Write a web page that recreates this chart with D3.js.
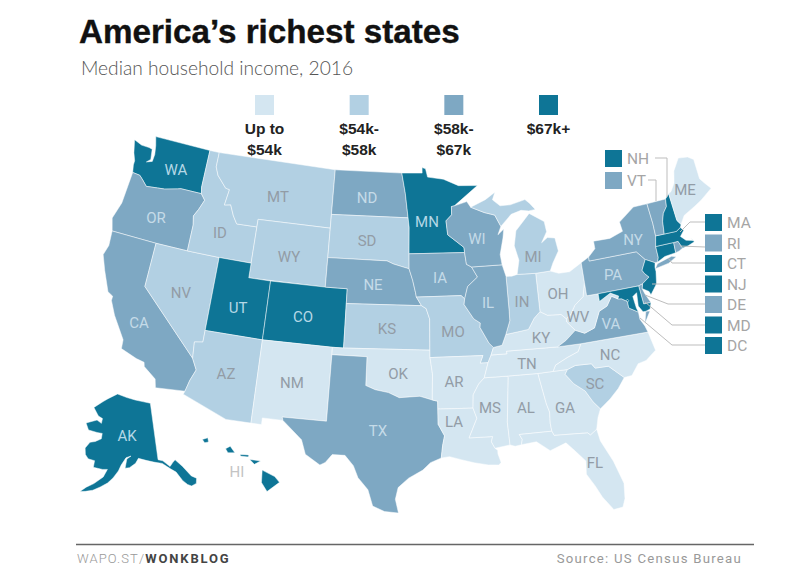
<!DOCTYPE html>
<html><head><meta charset="utf-8">
<script src="https://cdn.jsdelivr.net/npm/d3@7"></script>
<style>html,body{margin:0;padding:0;background:#fff}svg{display:block}</style>
</head><body><svg id="c" width="800" height="570"></svg>
<script>
const titleText = "America’s richest states";
const subtitleText = "Median household income, 2016";
const binLabels = [["Up to","$54k"],["$54k-","$58k"],["$58k-","$67k"],["$67k+"]];
const binColors = ["#d4e6f1","#b2d0e3","#7ea8c3","#0e7596"];
const tier0 = ["NM","OK","AR","LA","MS","AL","GA","FL","TN","KY","WV","OH","NC","ME"];
const tier1 = ["MT","ID","WY","SD","NV","AZ","KS","MO","IN","MI","SC"];
const tier2 = ["OR","CA","ND","NE","IA","WI","IL","TX","NY","VT","PA","RI","DE","VA"];
const tier3 = ["WA","MN","UT","CO","AK","HI","NH","MA","CT","NJ","MD","DC"];
const calloutsLeft = ["NH","VT"];
const calloutsRight = ["MA","RI","CT","NJ","DE","MD","DC"];

const shapes = {
WA:["-124.73,48.38 -123.9,48.16 -123.1,48.15 -122.75,48.1 -122.6,47.4 -122.95,47.15 -122.4,47.3 -122.35,47.8 -122.5,48.4 -122.75,49 -117.03,49 -117.04,46.42 -116.92,45.99 -118.98,46 -119.3,45.93 -120.5,45.7 -121.2,45.65 -122.3,45.55 -122.8,45.9 -123.2,46.15 -123.95,46.2 -124.1,46.7 -124.1,47 -124.4,47.5"],
OR:["-123.95,46.2 -123.2,46.15 -122.8,45.9 -122.3,45.55 -121.2,45.65 -120.5,45.7 -119.3,45.93 -118.98,46 -116.92,45.99 -116.47,45.6 -116.85,44.9 -117.2,44.4 -117.03,43.8 -117.03,42 -120,42 -124.2,42 -124.55,42.84 -124.1,44"],
CA:["-124.2,42 -120,42 -120,39 -114.63,35 -114.15,34.27 -114.5,33.5 -114.72,32.72 -117.12,32.53 -117.3,33.1 -118.4,33.75 -118.5,34.03 -119.2,34.15 -120.6,34.55 -120.65,35.15 -121.9,36.6 -122.5,37.5 -122.5,37.8 -123,38 -123.8,39.3 -124.35,40.3 -124.1,41"],
NV:["-120,42 -117.03,42 -114.04,42 -114.04,37 -114.04,36.2 -114.75,36.1 -114.63,35 -120,39"],
ID:["-117.03,49 -116.05,49 -116.05,48 -115.7,47.45 -114.7,46.7 -114.3,46.65 -114.5,45.56 -113.9,45.65 -113.45,44.95 -113,44.45 -111.05,44.48 -111.05,42 -114.04,42 -117.03,42 -117.03,43.8 -117.2,44.4 -116.85,44.9 -116.47,45.6 -116.92,45.99 -117.04,46.42"],
MT:["-116.05,49 -104.05,49 -104.05,45.94 -104.05,45 -111.05,45 -111.05,44.48 -113,44.45 -113.45,44.95 -113.9,45.65 -114.5,45.56 -114.3,46.65 -114.7,46.7 -115.7,47.45 -116.05,48"],
WY:["-111.05,45 -104.05,45 -104.05,43 -104.05,41 -111.05,41 -111.05,42 -111.05,44.48"],
UT:["-114.04,42 -111.05,42 -111.05,41 -109.05,41 -109.05,37 -114.04,37"],
CO:["-109.05,41 -104.05,41 -102.05,41 -102.05,40 -102.04,37 -103,37 -109.05,37"],
AZ:["-114.04,37 -109.05,37 -109.05,31.33 -111.07,31.33 -114.81,32.5 -114.72,32.72 -114.5,33.5 -114.15,34.27 -114.63,35 -114.75,36.1 -114.04,36.2"],
NM:["-109.05,37 -103,37 -103,36.5 -103.04,32 -106.62,32 -106.53,31.78 -108.2,31.78 -108.2,31.33 -109.05,31.33"],
ND:["-104.05,49 -97.23,49 -96.85,47.6 -96.56,45.94 -104.05,45.94"],
SD:["-104.05,45.94 -96.56,45.94 -96.45,45.3 -96.45,43.5 -96.44,42.49 -97.9,42.8 -98.5,43 -104.05,43 -104.05,45"],
NE:["-104.05,43 -98.5,43 -97.9,42.8 -96.44,42.49 -96.1,41.7 -95.85,40.9 -95.77,40.58 -95.31,40 -102.05,40 -102.05,41 -104.05,41"],
KS:["-102.05,40 -95.31,40 -94.9,39.8 -94.6,39.1 -94.62,37 -102.04,37"],
OK:["-103,37 -102.04,37 -94.62,37 -94.62,36.5 -94.43,35.4 -94.48,33.64 -95.5,33.9 -97.2,33.8 -98.1,34.13 -99.2,34.3 -100,34.56 -100,36.5 -103,36.5"],
TX:["-103,36.5 -100,36.5 -100,34.56 -99.2,34.3 -98.1,34.13 -97.2,33.8 -95.5,33.9 -94.48,33.64 -94.04,33.55 -94.04,33.02 -94.04,31.99 -93.55,31.2 -93.72,30.55 -93.85,29.7 -94.7,29.4 -95.3,28.9 -96.4,28.35 -97.2,27.7 -97.4,26.9 -97.15,25.96 -98.2,26.05 -99.1,26.4 -99.5,27.5 -100.3,28.3 -100.7,29.1 -101.4,29.77 -102.4,29.77 -102.9,29.2 -103.3,29 -104.5,29.65 -104.9,30.6 -106.53,31.78 -106.62,32 -103.04,32"],
MN:["-97.23,49 -95.15,49 -95.15,49.38 -94.8,49.3 -94.6,48.72 -93,48.55 -91.5,48.07 -89.6,48 -92,46.7 -92.29,46.66 -92.3,46.1 -92.87,45.7 -92.75,44.75 -91.25,43.85 -91.22,43.5 -96.45,43.5 -96.45,45.3 -96.56,45.94 -96.85,47.6"],
IA:["-96.45,43.5 -91.22,43.5 -91.1,42.7 -90.64,42.5 -90.15,41.8 -91.1,41.2 -91.42,40.38 -91.73,40.61 -95.77,40.58 -95.85,40.9 -96.1,41.7 -96.44,42.49"],
MO:["-95.77,40.58 -91.73,40.61 -91.42,40.38 -91.5,40 -90.7,39 -90.15,38.7 -90.2,38.4 -89.5,37.3 -89.15,37 -89.4,36.5 -89.7,36 -90.37,36 -90.1,36.5 -94.62,36.5 -94.62,37 -94.6,39.1 -94.9,39.8 -95.31,40"],
AR:["-94.62,36.5 -90.1,36.5 -90.37,36 -89.7,36 -90.1,35 -90.6,34.6 -91.1,33.9 -91.17,33 -94.04,33.02 -94.04,33.55 -94.48,33.64 -94.43,35.4"],
LA:["-94.04,33.02 -91.17,33 -90.9,32.3 -91.6,31 -89.73,31 -89.85,30.65 -89.6,30.2 -89.4,30.05 -89.4,29.8 -89.2,29.2 -89.4,29.05 -90.2,29.1 -91.3,29.3 -92.3,29.55 -93.2,29.78 -93.85,29.7 -93.72,30.55 -93.55,31.2 -94.04,31.99"],
MS:["-90.1,35 -88.2,35 -88.1,34.9 -88.47,31.9 -88.4,30.35 -89.6,30.2 -89.85,30.65 -89.73,31 -91.6,31 -90.9,32.3 -91.17,33 -91.1,33.9 -90.6,34.6"],
AL:["-88.2,35 -85.6,34.98 -85.18,32.87 -85,32.3 -85.05,31.55 -85,31 -87.6,31 -87.4,30.65 -87.5,30.3 -88,30.23 -88.4,30.35 -88.47,31.9 -88.1,34.9"],
GA:["-85.6,34.98 -84.32,35 -83.1,35 -83.35,34.7 -82.75,34 -81.9,33.4 -81.4,32.6 -80.9,32.05 -81.2,31.5 -81.45,30.72 -82,30.4 -82.2,30.57 -84.86,30.7 -85,31 -85.05,31.55 -85,32.3 -85.18,32.87"],
FL:["-87.6,31 -85,31 -84.86,30.7 -82.2,30.57 -82,30.4 -81.45,30.72 -81.3,29.9 -80.55,28.4 -80.03,26.8 -80.15,25.75 -80.4,25.2 -81.1,25.13 -81.8,26.1 -82.2,26.9 -82.75,27.8 -82.65,28.7 -83.4,29.5 -84,30.1 -85.3,29.7 -86.3,30.4 -87.5,30.3 -87.4,30.65"],
SC:["-83.1,35 -82.4,35.2 -81.05,35.15 -80.8,34.82 -79.68,34.8 -78.55,33.86 -79.2,33.2 -80,32.6 -80.9,32.05 -81.4,32.6 -81.9,33.4 -82.75,34 -83.35,34.7"],
NC:["-84.32,35 -83.1,35 -82.4,35.2 -81.05,35.15 -80.8,34.82 -79.68,34.8 -78.55,33.86 -77.9,33.9 -77.2,34.6 -76.5,34.7 -75.55,35.25 -75.85,36.55 -81.68,36.59 -82,36.1 -83,35.8 -84.05,35.4"],
TN:["-90.1,35 -88.2,35 -85.6,34.98 -84.32,35 -84.05,35.4 -83,35.8 -82,36.1 -81.68,36.59 -83.68,36.6 -88.07,36.68 -88.05,36.5 -89.4,36.5 -89.7,36"],
KY:["-89.4,36.5 -88.05,36.5 -88.07,36.68 -83.68,36.6 -82.9,36.95 -81.97,37.54 -82.6,38.17 -82.6,38.4 -83,38.73 -84.2,38.8 -84.82,39.1 -85.4,38.7 -86,38 -87,37.9 -88,37.8 -88.4,37.1 -89.15,37"],
VA:["-83.68,36.6 -81.68,36.59 -75.85,36.55 -76,37 -76.3,37.5 -76.3,38 -77.05,38.4 -77.05,38.85 -77.52,39.1 -77.83,39.14 -78.35,39.4 -78.9,38.8 -79.65,38.55 -80.3,37.5 -81.2,37.25 -81.97,37.54 -82.9,36.95","-75.95,37.15 -75.3,37.9 -75.65,37.95"],
WV:["-81.97,37.54 -81.2,37.25 -80.3,37.5 -79.65,38.55 -78.9,38.8 -78.35,39.4 -77.83,39.14 -77.72,39.32 -78.4,39.62 -79.48,39.2 -79.48,39.72 -80.52,39.72 -80.52,40.64 -80.85,39.7 -81.7,39.2 -82.2,38.6 -82.6,38.4 -82.6,38.17"],
OH:["-80.52,41.98 -80.52,40.64 -80.85,39.7 -81.7,39.2 -82.2,38.6 -82.6,38.4 -83,38.73 -84.2,38.8 -84.82,39.1 -84.8,41.7 -83.45,41.73 -82.7,41.5 -81.7,41.5"],
IN:["-84.82,39.1 -85.4,38.7 -86,38 -87,37.9 -88,37.8 -87.55,38.7 -87.53,39.35 -87.53,41.7 -87,41.68 -86.5,41.76 -84.8,41.7"],
IL:["-91.42,40.38 -91.1,41.2 -90.15,41.8 -90.64,42.5 -87.8,42.5 -87.53,41.7 -87.53,39.35 -87.55,38.7 -88,37.8 -88.4,37.1 -89.15,37 -89.5,37.3 -90.2,38.4 -90.15,38.7 -90.7,39 -91.5,40"],
WI:["-92.29,46.66 -92,46.7 -90.75,46.95 -90.4,46.55 -89.1,46.13 -88.1,45.9 -87.6,45.1 -87.95,44.55 -87.35,44.9 -87.5,44.3 -87.9,43.2 -87.8,42.5 -90.64,42.5 -91.1,42.7 -91.22,43.5 -91.25,43.85 -92.75,44.75 -92.87,45.7 -92.3,46.1"],
MI:["-86.5,41.76 -84.8,41.7 -83.45,41.73 -83.1,42.25 -82.45,43 -82.6,43.9 -83.3,44 -83.9,43.7 -83.3,44.4 -83.4,45.1 -84.75,45.78 -85.4,45.3 -86.2,44.7 -86.5,43.7 -86.2,42.7","-90.4,46.55 -89.1,46.13 -88.1,45.9 -87.6,45.1 -86.5,45.85 -85.5,46.05 -84.75,45.95 -84.1,46 -84.6,46.47 -85,46.75 -86.5,46.5 -87.5,46.5 -88.2,46.95 -87.9,47.45 -88.9,47"],
PA:["-79.76,42.27 -80.52,41.98 -80.52,40.64 -80.52,39.72 -79.48,39.72 -75.8,39.72 -75.42,39.8 -74.72,40.15 -75.05,40.45 -75.2,40.7 -74.7,41.36 -75.35,42 -79.76,42"],
NY:["-79.76,42.27 -79.76,42 -75.35,42 -74.7,41.36 -73.9,41 -73.65,41 -73.5,41.3 -73.5,42.05 -73.27,42.75 -73.25,43.6 -73.35,45 -74.7,45 -75.5,44.6 -76.3,44.2 -76.2,43.55 -77.5,43.25 -79.05,43.27 -79.05,42.75","-74,40.6 -73.7,40.9 -72.3,41.15 -71.9,41.05 -72.7,40.75"],
NJ:["-75.2,40.7 -75.05,40.45 -74.72,40.15 -75.42,39.8 -75.55,39.5 -75,39.2 -74.9,38.95 -74.2,39.6 -74,40.4 -74,40.7 -73.9,41 -74.7,41.36"],
DE:["-75.8,39.72 -75.42,39.8 -75.55,39.5 -75.4,39.1 -75.05,38.45 -75.7,38.46"],
MD:["-79.48,39.72 -75.8,39.72 -75.7,38.46 -75.05,38.45 -75.25,38.03 -75.65,37.95 -75.9,37.95 -76.2,38.4 -76.1,39.3 -76.5,39.1 -76.4,38.3 -76.3,38 -77.05,38.4 -77.05,38.85 -77.52,39.1 -77.83,39.14 -77.72,39.32 -78.4,39.62 -79.48,39.2"],
DC:["-77.12,38.93 -77.04,39 -76.91,38.89 -77.04,38.79"],
CT:["-73.5,42.05 -71.8,42.02 -71.85,41.32 -72.9,41.25 -73.65,41 -73.5,41.3"],
RI:["-71.8,42.02 -71.38,42.02 -71.13,41.5 -71.5,41.37 -71.85,41.32"],
MA:["-73.5,42.05 -73.27,42.75 -72.45,42.73 -71.3,42.7 -70.85,42.88 -70.6,42.65 -71.05,42.3 -70.65,41.95 -70,41.8 -70.2,42.05 -69.95,41.7 -70.6,41.55 -71.13,41.5 -71.38,42.02 -71.8,42.02"],
VT:["-73.35,45 -71.5,45.01 -71.6,44.5 -72.05,44.1 -72.3,43.6 -72.45,42.73 -73.27,42.75 -73.25,43.6"],
NH:["-71.5,45.01 -71.08,45.3 -70.98,43.4 -70.7,43.07 -70.85,42.88 -71.3,42.7 -72.45,42.73 -72.3,43.6 -72.05,44.1 -71.6,44.5"],
ME:["-71.08,45.3 -70.8,45.4 -70.3,45.9 -70,46.7 -69.23,47.46 -68.3,47.35 -67.8,47.07 -67.8,45.7 -67.45,45.3 -67,44.85 -68.2,44.3 -69,44 -70.2,43.6 -70.7,43.07 -70.98,43.4"],
AK:["-141,69.65 -141,60.3 -139.5,60 -137.5,58.9 -136.5,59.4 -135.5,59.8 -133.7,58.5 -131.8,56.6 -130.5,56 -131,55.2 -132.5,55 -133.5,55.4 -134.6,56.2 -136,57.8 -137.5,58.5 -139.8,59.6 -142.5,60 -145,60.4 -147.5,60.8 -148.5,60 -150.5,59.3 -151.9,59.2 -151.4,60.7 -150,61.2 -151.7,60.9 -153.2,59.7 -154,58.7 -155.5,57.5 -157,56.6 -159,55.8 -161,55.1 -163,54.7 -164.5,54.5 -163,55.4 -161,56.2 -158.5,57.5 -157.5,58.8 -159,58.7 -162,58.8 -162,59.9 -164.2,60 -165.4,60.6 -166,61.6 -164.8,62.7 -163,63 -161,63.6 -161,64.5 -163,64.5 -166.4,64.6 -168,65.6 -164,66.5 -162,66.1 -161.9,66.9 -163.8,67.2 -166.5,68.4 -163,69.7 -161,70.3 -156.7,71.3 -152,70.8 -148,70.4 -144,70"],
HI:["-155.9,20.25 -155.1,19.85 -154.8,19.5 -155.6,18.95 -155.95,19.5","-156.7,20.9 -156,20.8 -156.4,20.6","-158.25,21.55 -157.95,21.7 -157.65,21.3 -158.1,21.3","-159.75,22.1 -159.4,22.2 -159.35,21.95 -159.6,21.9","-157.3,21.2 -156.75,21.17 -156.8,21.05 -157.3,21.1"]
};

// layout
const projLower = d3.geoAlbers().scale(843).translate([407,325]);
const projAK = d3.geoConicEqualArea().rotate([150,0]).center([0,63]).parallels([55,65]).scale(350).translate([131,445]);
const projHI = d3.geoConicEqualArea().rotate([157,0]).center([0,20.5]).parallels([8,18]).scale(950).translate([245,466]);
const pathFor = id => d3.geoPath(id==="AK"?projAK:id==="HI"?projHI:projLower);

const tierOf = new Map();
[tier0,tier1,tier2,tier3].forEach((t,i)=>t.forEach(s=>tierOf.set(s,i)));
const color = d3.scaleOrdinal([0,1,2,3],binColors);

const features = Object.keys(shapes).map(id=>{
  const polys = shapes[id].map(r=>{
    let ring = r.split(" ").map(p=>p.split(",").map(Number));
    ring.push(ring[0]);
    if(d3.geoArea({type:"Polygon",coordinates:[ring]})>2*Math.PI) ring.reverse();
    return [ring];
  });
  return {type:"Feature",id,geometry:{type:"MultiPolygon",coordinates:polys}};
});

const svg = d3.select("#c");
svg.append("rect").attr("width",800).attr("height",570).attr("fill","#fff");
svg.append("g").selectAll("path").data(features).join("path")
  .attr("d",d=>pathFor(d.id)(d))
  .attr("fill",d=>color(tierOf.get(d.id)))
  .attr("stroke","#fff").attr("stroke-width",0.6).attr("stroke-opacity",0.8).attr("stroke-linejoin","round");

// state label centres
const labelAt = {WA:[176,169],OR:[156,217],ID:[220,232],MT:[278,196],WY:[289,256],NV:[181,292],UT:[238,307],CO:[303,316],CA:[139,322],AZ:[226,373],NM:[292,382],
 OK:[398,373],AR:[454,381],LA:[454,421],MS:[490,407],AL:[526,407],GA:[565,407],TX:[378,430],TN:[527,363],NC:[610,354],SC:[595,383],FL:[595,462],
 MN:[427,221],WI:[477,238],IA:[440,277],IL:[488,302],IN:[522,301],MI:[533,256],OH:[558,293],MO:[453,331],KY:[541,337],WV:[578,316],
 ND:[367,197],SD:[367,240],NE:[373,284],KS:[387,328],NY:[633,239],PA:[613,274],VA:[611,323],ME:[685,189],AK:[127,435],HI:[237,471]};
const labelColor = id => id==="HI" ? "#c4c4c4" : tierOf.get(id)===3 ? "#b5d8e6" : tierOf.get(id)===2 ? "#c5dbe8" : "#929ca6";
svg.append("g").selectAll("text").data(Object.keys(labelAt)).join("text")
  .attr("x",d=>labelAt[d][0]).attr("y",d=>labelAt[d][1]+5.5)
  .attr("text-anchor","middle").attr("font-family","Roboto,sans-serif").attr("font-size",15)
  .attr("fill",labelColor).text(d=>d);

// title
svg.append("text").attr("x",79).attr("y",43).attr("font-family","'Liberation Sans',sans-serif").attr("font-weight",700)
  .attr("font-size",33.2).attr("fill","#111").attr("stroke","#111").attr("stroke-width",0.4).text(titleText);
svg.append("text").attr("x",81).attr("y",75).attr("font-family","Lato,sans-serif").attr("font-weight",300)
  .attr("font-size",19.2).attr("fill","#555").text(subtitleText);

// legend
const legendX = d3.scalePoint().domain(d3.range(4)).range([264.5,548.5]);
const lg = svg.append("g").selectAll("g").data(binLabels).join("g").attr("transform",(d,i)=>`translate(${legendX(i)},0)`);
lg.append("rect").attr("x",-9.5).attr("y",95).attr("width",19).attr("height",20).attr("fill",(d,i)=>binColors[i]);
lg.each(function(d){
  d3.select(this).selectAll("text").data(d).join("text").attr("y",(t,i)=>134+i*21).attr("text-anchor","middle")
    .attr("font-family","'Liberation Sans',sans-serif").attr("font-weight",700).attr("font-size",15.5).attr("fill","#222").text(t=>t);
});

// callouts
const line = d3.line();
const leaders = {
 NH:[[655,158],[667,158],[667,197]], VT:[[648,180],[656,180],[656,201]],
 MA:[[705,222],[690,222],[680,232]], RI:[[705,247],[680,246]], CT:[[705,263],[672,263],[668,258]],
 NJ:[[705,284],[652,284]], DE:[[705,304],[668,304],[645,295]], MD:[[705,325],[672,325],[645,302]], DC:[[705,345],[672,345],[640,318]]
};
svg.append("g").selectAll("path").data(Object.keys(leaders)).join("path")
  .attr("d",d=>line(leaders[d])).attr("fill","none").attr("stroke","#bdbdbd").attr("stroke-width",1);
const leftY = d3.scalePoint().domain(calloutsLeft).range([150,172]);
const rightY = d3.scalePoint().domain(calloutsRight).range([214,337]);
const drawCall = (ids,x,y) => {
  const g = svg.append("g").selectAll("g").data(ids).join("g").attr("transform",d=>`translate(${x},${y(d)})`);
  g.append("rect").attr("width",17).attr("height",17).attr("fill",d=>color(tierOf.get(d)));
  g.append("text").attr("x",22).attr("y",14).attr("font-family","Roboto,sans-serif").attr("font-size",15.5).attr("fill","#a5a5a5").text(d=>d);
};
drawCall(calloutsLeft,605,leftY);
drawCall(calloutsRight,705,rightY);

// footer
svg.append("line").attr("x1",76).attr("x2",754).attr("y1",544.5).attr("y2",544.5).attr("stroke","#666").attr("stroke-width",1.5);
const ft = svg.append("text").attr("x",77).attr("y",563).attr("font-family","Roboto,sans-serif").attr("font-size",13).attr("letter-spacing",1.1).attr("fill","#999");
ft.append("tspan").attr("font-weight",300).text("WAPO.ST/");
ft.append("tspan").attr("font-weight",700).attr("fill","#444").attr("letter-spacing",1.85).text("WONKBLOG");
svg.append("text").attr("x",742).attr("y",563).attr("text-anchor","end").attr("font-family","Roboto,sans-serif").attr("font-size",13.2).attr("letter-spacing",1.25).attr("fill","#999").text("Source: US Census Bureau");
</script></body></html>
